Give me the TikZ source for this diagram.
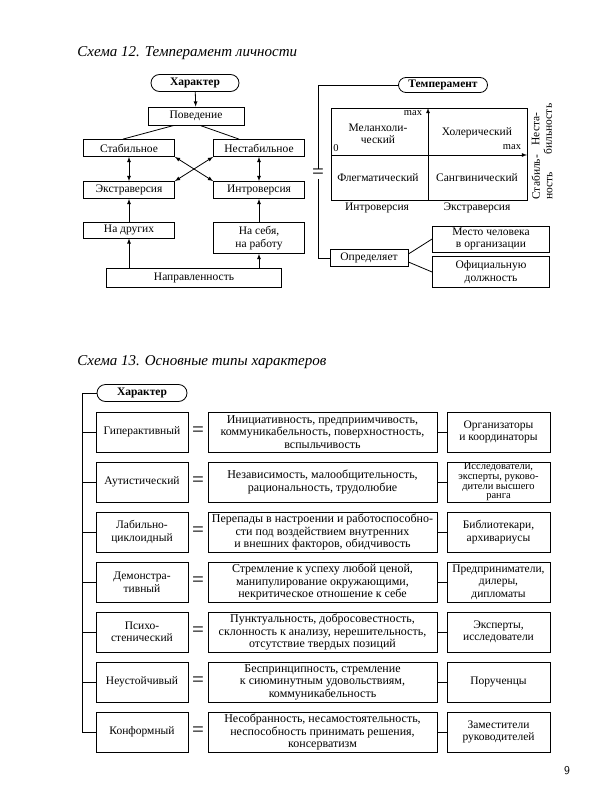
\documentclass[tikz,border=0pt]{standalone}
\usepackage{fontspec}
\setmainfont{Liberation Serif}
\usetikzlibrary{arrows}
\usetikzlibrary{shapes.misc, math}

\tikzset{
  blk/.style={draw, line width=0.8pt, align=center, inner sep=1pt, font=\fontsize{11.5}{12.5}\selectfont},
  oval/.style={draw, rounded rectangle, line width=0.8pt, inner sep=1pt, font=\bfseries\fontsize{11.5}{12.5}\selectfont},
  eqs/.style={fill=white, inner sep=0.5pt, font=\fontsize{21}{21}\selectfont},
  lbl/.style={font=\fontsize{11.5}{12.5}\selectfont, align=center, inner sep=0pt},
  small/.style={font=\fontsize{10.5}{10.5}\selectfont},
  ttl/.style={anchor=west, inner sep=0pt, font=\itshape\fontsize{15}{15}\selectfont}
}

\begin{document}
\begin{tikzpicture}[x=1pt,y=-1pt,line width=0.8pt]
\tikzmath{
\xl=142; \xm=322.5; \xr=498.5;
}
\useasboundingbox (0,0) rectangle (600,800);

% Схема 12
\node[ttl] (t12) at (77,53) {Схема 12. Темперамент личности};

\node[oval, minimum width=90, minimum height=17] (har) at (195,83) {Характер};
\node[blk, minimum width=96, minimum height=18] (pov) at (196,116) {Поведение};
\node[blk, minimum width=91, minimum height=17] (stab) at (129,148) {Стабильное};
\node[blk, minimum width=91, minimum height=17] (nestab) at (259,148) {Нестабильное};
\node[blk, minimum width=91, minimum height=17] (extra) at (129,190) {Экстраверсия};
\node[blk, minimum width=91, minimum height=17] (intro) at (259,190) {Интроверсия};
\node[blk, minimum width=91, minimum height=16] (nadrug) at (129,230) {На других};
\node[blk, minimum width=91, minimum height=31] (naseb) at (259,238) {На себя,\\на работу};
\node[blk, minimum width=175, minimum height=19] (napr) at (194,278) {Направленность};

\draw[-latex] (har) -- (pov);
\draw ([xshift=-22pt]pov.south) -- ([xshift=-6pt]stab.north);
\draw ([xshift=4pt]pov.south) -- ([xshift=-20pt]nestab.north);
\draw[latex-latex] (stab) -- (extra);
\draw[latex-latex] (nestab) -- (intro);
\draw[latex-latex] (stab.south east) -- (intro.north west);
\draw[latex-latex] (nestab.south west) -- (extra.north east);
\draw[-latex] (nadrug) -- (extra);
\draw[-latex] (naseb) -- (intro);
\draw[-latex] (napr.north -| nadrug) -- (nadrug);
\draw[-latex] (napr.north -| naseb) -- (naseb);

\node[oval, minimum width=91, minimum height=15] (temp) at (443,85) {Темперамент};
\node[blk, minimum width=78, minimum height=17] (opr) at (369,258) {Определяет};
\node[blk, minimum width=117, minimum height=26] (mesto) at (491,239) {Место человека\\в организации};
\node[blk, minimum width=117, minimum height=31] (ofic) at (491,272) {Официальную\\должность};
\coordinate (brk) at (318,0);
\draw (temp.west) -- (temp.west -| brk) -- (opr.west -| brk) -- (opr.west);
\node[eqs] (eq12) at (318,174) {=};
\draw ([yshift=4pt]opr.east) -- (mesto.west);
\draw ([yshift=-4pt]opr.east) -- (ofic.west);

% квадранты
\draw (331,108) rectangle (527,200);
\draw[-latex] (428,200) -- (428,108);
\draw[-latex] (331,155) -- (527,155);
\node[lbl, small] at (413,113) {max};
\node[lbl, small] at (512,147) {max};
\node[lbl, small] at (336,148) {0};
\node[lbl] (mel) at (378,134) {Меланхоли-\\ческий};
\node[lbl] (hol) at (477,133) {Холерический};
\node[lbl] (fle) at (378,178) {Флегматический};
\node[lbl] (san) at (477,178) {Сангвинический};
\node[lbl] at (377,208) {Интроверсия};
\node[lbl] at (477,208) {Экстраверсия};
\node[lbl, rotate=90] at (542,129) {Неста-\\бильность};
\node[lbl, rotate=90, align=left, anchor=west] at (542,200) {Стабиль-\\ность};

% Схема 13
\node[ttl] (t13) at (77,362) {Схема 13. Основные типы характеров};
\node[oval, minimum width=92, minimum height=17] (har2) at (\xl,393) {Характер};
\coordinate (spine) at (82,0);

\foreach \i/\a/\b/\c in {
  1/Гиперактивный/{Инициативность, предприимчивость,\\коммуникабельность, поверхностность,\\вспыльчивость}/{Организаторы\\и координаторы},
  2/Аутистический/{Независимость, малообщительность,\\рациональность, трудолюбие}/{\fontsize{10.5}{12.5}\selectfont Исследователи,\\[-2.8pt]\fontsize{10.5}{12.5}\selectfont эксперты, руково-\\[-2.8pt]\fontsize{10.5}{12.5}\selectfont дители высшего\\[-2.8pt]\fontsize{10.5}{12.5}\selectfont ранга},
  3/{Лабильно-\\циклоидный}/{Перепады в настроении и работоспособно-\\сти под воздействием внутренних\\и внешних факторов, обидчивость}/{Библиотекари,\\архивариусы},
  4/{Демонстра-\\тивный}/{Стремление к успеху любой ценой,\\манипулирование окружающими,\\некритическое отношение к себе}/{Предприниматели,\\дилеры,\\дипломаты},
  5/{Психо-\\стенический}/{Пунктуальность, добросовестность,\\склонность к анализу, нерешительность,\\отсутствие твердых позиций}/{Эксперты,\\исследователи},
  6/Неустойчивый/{Беспринципность, стремление\\к сиюминутным удовольствиям,\\коммуникабельность}/Порученцы,
  7/Конформный/{Несобранность, несамостоятельность,\\неспособность принимать решения,\\консерватизм}/{Заместители\\руководителей}}{
  \node[blk, minimum width=92, minimum height=40] (t\i) at (\xl,382+50*\i) {\a};
  \node[blk, font=\fontsize{12}{12.5}\selectfont, minimum width=229, minimum height=40] (d\i) at (\xm,382+50*\i) {\b};
  \node[blk, minimum width=103, minimum height=40] (p\i) at (\xr,382+50*\i) {\c};
  \path (t\i.east) -- node[eqs] {=} (d\i.west);
  \draw (d\i) -- (p\i);
  \draw (t\i.west -| spine) -- (t\i.west);
}
\draw (har2.west) -- (har2.west -| spine) -- (t7.west -| spine);

\node[font=\sffamily\fontsize{12}{12}\selectfont] (pg) at (567,771) {9};
\end{tikzpicture}
\end{document}
